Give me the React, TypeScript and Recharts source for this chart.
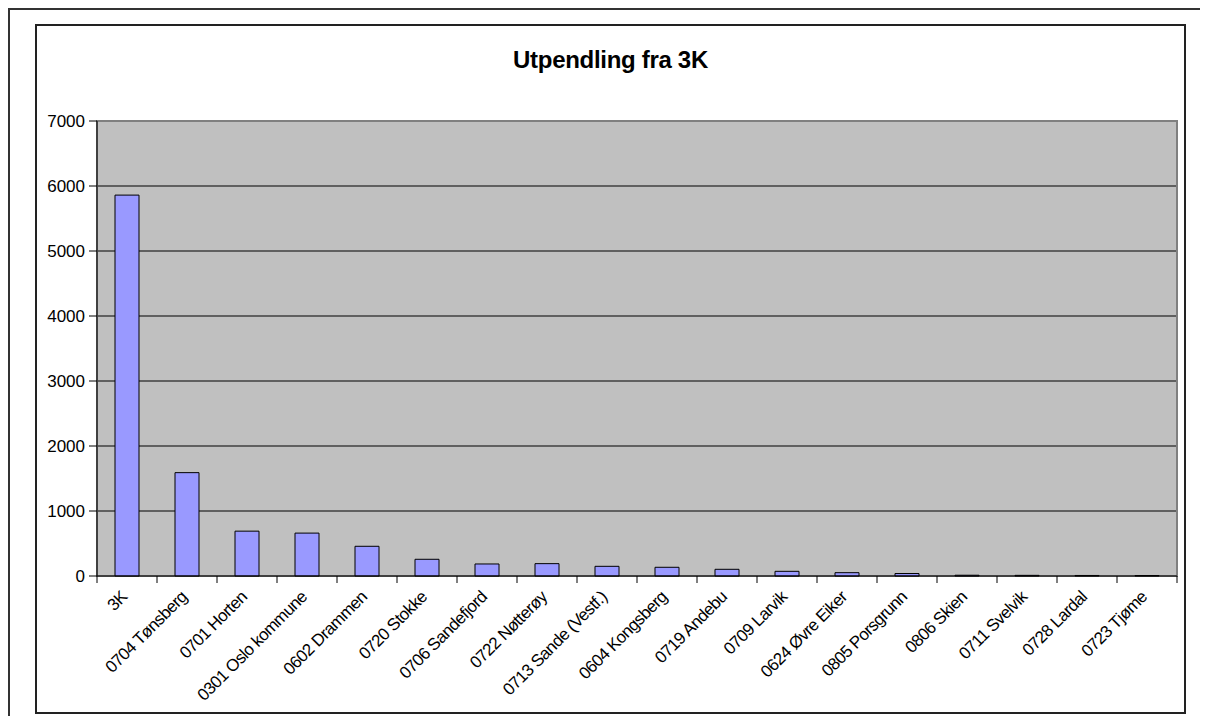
import { Bar, BarChart, CartesianGrid, ReferenceArea, XAxis, YAxis } from "recharts";

const categories = [
  "3K",
  "0704 Tønsberg",
  "0701 Horten",
  "0301 Oslo kommune",
  "0602 Drammen",
  "0720 Stokke",
  "0706 Sandefjord",
  "0722 Nøtterøy",
  "0713 Sande (Vestf.)",
  "0604 Kongsberg",
  "0719 Andebu",
  "0709 Larvik",
  "0624 Øvre Eiker",
  "0805 Porsgrunn",
  "0806 Skien",
  "0711 Svelvik",
  "0728 Lardal",
  "0723 Tjøme",
];

const values = [5860, 1590, 690, 660, 457, 257, 185, 190, 149, 134, 103, 72, 51, 38, 12, 10, 8, 7];

const yTicks = [0, 1000, 2000, 3000, 4000, 5000, 6000, 7000];
const gridValues = [1000, 2000, 3000, 4000, 5000, 6000];

const data = categories.map((name, i) => ({ name, v: values[i] }));

const FONT = "Arial, 'Liberation Sans', sans-serif";
const BAND = 1080 / categories.length;

function CategoryTick(props: any) {
  const { x, y, payload, index } = props;
  const last = index === categories.length - 1;
  const tx = x + 1;
  const ty = y + 14;
  return (
    <g>
      <line x1={x - BAND / 2} y1={y - 8} x2={x - BAND / 2} y2={y - 1} stroke="#000" />
      {last && <line x1={x + BAND / 2} y1={y - 8} x2={x + BAND / 2} y2={y - 1} stroke="#000" />}
      <text
        x={tx}
        y={ty}
        transform={`rotate(-45, ${tx}, ${ty})`}
        textAnchor="end"
        fontSize={17}
        fontFamily={FONT}
        fill="#000"
        letterSpacing={-0.6}
      >
        {payload.value}
      </text>
    </g>
  );
}

export default function App() {
  return (
    <div
      style={{
        position: "relative",
        width: 1200,
        height: 708,
        borderTop: "2px solid #333",
        borderLeft: "2px solid #333",
        boxSizing: "border-box",
        background: "#fff",
      }}
    >
      <div
        style={{
          position: "absolute",
          left: 25,
          top: 14,
          width: 1151,
          height: 690,
          border: "2px solid #222",
          boxSizing: "border-box",
        }}
      >
        <div
          style={{
            position: "absolute",
            top: 20,
            left: 0,
            width: 1147,
            textAlign: "center",
            fontFamily: FONT,
            fontWeight: "bold",
            fontSize: 24,
            letterSpacing: -0.3,
          }}
        >
          Utpendling fra 3K
        </div>
        <BarChart
          width={1147}
          height={686}
          data={data}
          margin={{ top: 95, right: 7, left: 0, bottom: 0 }}
        >
          <CartesianGrid
            vertical={false}
            horizontalValues={gridValues}
            stroke="#000"
            fill="#C0C0C0"
          />
          <ReferenceArea y1={0} y2={7000} fill="none" stroke="#808080" strokeWidth={2} />
          <XAxis
            dataKey="name"
            interval={0}
            height={136}
            tickLine={false}
            axisLine={{ stroke: "#000" }}
            tick={<CategoryTick />}
          />
          <YAxis
            width={60}
            domain={[0, 7000]}
            ticks={yTicks}
            interval={0}
            tickSize={8}
            tickMargin={4}
            axisLine={{ stroke: "#000" }}
            tickLine={{ stroke: "#000" }}
            tick={{ fill: "#000", fontSize: 17, fontFamily: FONT }}
          />
          <Bar
            dataKey="v"
            fill="#9999FF"
            stroke="#000"
            strokeWidth={1}
            barSize={24}
            isAnimationActive={false}
          />
        </BarChart>
      </div>
    </div>
  );
}
